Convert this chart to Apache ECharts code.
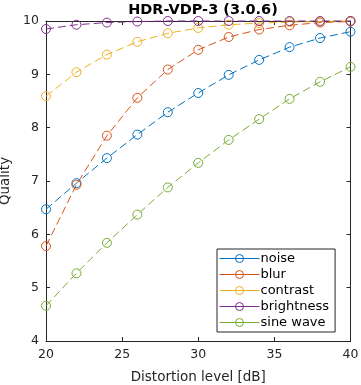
<!DOCTYPE html>
<html><head><meta charset="utf-8">
<script src="https://cdn.jsdelivr.net/npm/echarts@6/dist/echarts.min.js"></script>
<style>html,body{margin:0;padding:0;background:#fff}#c{width:361px;height:385px}</style>
</head><body><div id="c"></div>
<script>
const xValues = [20, 22, 24, 26, 28, 30, 32, 34, 36, 38, 40];
const seriesNames = ['noise', 'blur', 'contrast', 'brightness', 'sine wave'];
const noise = [6.47, 6.96, 7.43, 7.87, 8.29, 8.65, 8.99, 9.27, 9.51, 9.68, 9.80];
const blur = [5.78, 6.93, 7.85, 8.56, 9.09, 9.46, 9.70, 9.84, 9.92, 9.97, 9.99];
const contrast = [8.59, 9.04, 9.37, 9.61, 9.77, 9.87, 9.93, 9.96, 9.98, 9.99, 10.0];
const brightness = [9.85, 9.93, 9.97, 9.99, 10.0, 10.0, 10.0, 10.0, 10.0, 10.0, 10.0];
const sineWave = [4.66, 5.27, 5.84, 6.37, 6.88, 7.34, 7.77, 8.16, 8.54, 8.86, 9.14];
const colors = ['#0072BD', '#D95319', '#EDB120', '#7E2F8E', '#77AC30'];
const xTicks = [20, 25, 30, 35, 40];
const yTicks = [4, 5, 6, 7, 8, 9, 10];

const allData = [noise, blur, contrast, brightness, sineWave];
const font = 'DejaVu Sans';
const chart = echarts.init(document.getElementById('c'), null, {renderer: 'canvas'});
const axisCommon = {
  axisLine: {show: true, lineStyle: {color: '#262626', width: 1}},
  axisTick: {show: true, inside: true, length: 4, lineStyle: {color: '#262626'}},
  splitLine: {show: false}
};
chart.setOption({
  animation: false,
  color: colors,
  title: {text: 'HDR-VDP-3 (3.0.6)', left: 198, textAlign: 'center', top: -2,
    textStyle: {fontFamily: font, fontSize: 14.5, fontWeight: 'bold', color: '#000'}},
  grid: {left: 46, right: 10.5, top: 21, bottom: 44, containLabel: false, outerBoundsMode: 'none'},
  legend: {
    orient: 'vertical', left: 217, top: 249, width: 115,
    data: seriesNames,
    itemWidth: 40, itemHeight: 10, itemGap: 3,
    padding: [3, 6, 3, 2],
    borderColor: '#262626', borderWidth: 1, backgroundColor: '#fff',
    itemStyle: {borderWidth: 1},
    lineStyle: {width: 1, type: 'solid'},
    textStyle: {fontFamily: font, fontSize: 13, color: '#000', padding: [0, 0, 0, -4]}
  },
  xAxis: [
    Object.assign({type: 'value', min: 20, max: 40, interval: 5, position: 'bottom',
      name: 'Distortion level [dB]', nameLocation: 'middle', nameGap: 29,
      nameTextStyle: {fontFamily: font, fontSize: 13.5, color: '#262626'},
      axisLabel: {fontFamily: font, fontSize: 12.5, color: '#262626', margin: 7,
        formatter: v => xTicks.includes(v) ? String(v) : ''}}, axisCommon),
    Object.assign({type: 'value', min: 20, max: 40, interval: 5, position: 'top',
      axisLabel: {show: false}}, axisCommon)
  ],
  yAxis: [
    Object.assign({type: 'value', min: 4, max: 10, interval: 1, position: 'left',
      name: 'Quality', nameLocation: 'middle', nameGap: 25,
      nameTextStyle: {fontFamily: font, fontSize: 13.5, color: '#262626'},
      axisLabel: {fontFamily: font, fontSize: 12.5, color: '#262626', margin: 7,
        formatter: v => yTicks.includes(v) ? String(v) : ''}}, axisCommon),
    Object.assign({type: 'value', min: 4, max: 10, interval: 1, position: 'right',
      axisLabel: {show: false}}, axisCommon)
  ],
  series: seriesNames.map((n, i) => ({
    name: n, type: 'line',
    data: xValues.map((x, j) => [x, allData[i][j]]),
    symbol: 'circle', symbolSize: 9, showSymbol: true, showAllSymbol: true,
    lineStyle: {color: colors[i], width: 1, type: [8, 4]},
    itemStyle: {color: 'rgba(255,255,255,0)', borderColor: colors[i], borderWidth: 1},
    clip: false
  }))
});
</script></body></html>
